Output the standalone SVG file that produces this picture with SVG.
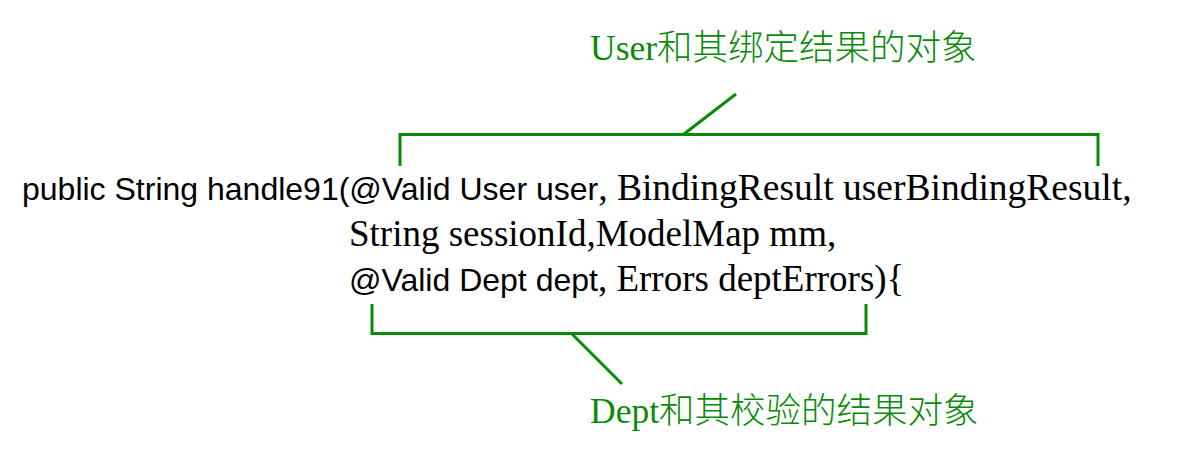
<svg xmlns="http://www.w3.org/2000/svg" width="1195" height="460" viewBox="0 0 1195 460">
<style>
.sans{font-family:"Liberation Sans",Arial,sans-serif;font-size:32px;fill:#000}
.serif{font-family:"Liberation Serif","Times New Roman",serif;font-size:37px;fill:#000}
.lbl{font-family:"Liberation Serif","Noto Sans CJK SC",serif;font-size:35.5px;fill:#0a8a0a}
.cjk{font-family:"Noto Sans CJK SC",sans-serif;font-weight:300}
.br{fill:none;stroke:#0a8a0a;stroke-width:3}
</style>
<rect width="1195" height="460" fill="#fff"/>
<g id="code">
<text x="22" y="200"><tspan class="sans">public String handle91(@Valid User user</tspan><tspan class="serif" style="font-size:37.5px">, BindingResult userBindingResult,</tspan></text>
<text x="349" y="246" class="serif">String sessionId,ModelMap mm,</text>
<text x="349" y="291"><tspan class="sans">@Valid Dept dept</tspan><tspan class="serif">, Errors deptErrors){</tspan></text>
</g>
<g id="userLabel">
<text x="590" y="60" class="lbl">User<tspan class="cjk">和其绑定结果的对象</tspan></text>
</g>
<g id="deptLabel">
<text x="590" y="423" class="lbl">Dept<tspan class="cjk">和其校验的结果对象</tspan></text>
</g>
<g id="connectors">
<path class="br" d="M400,166 V134.5 H1098 V166"/>
<path class="br" d="M684,134 L736,94"/>
<path class="br" d="M372,304 V333.5 H866 V304"/>
<path class="br" d="M572,334 L622,384"/>
</g>
</svg>
